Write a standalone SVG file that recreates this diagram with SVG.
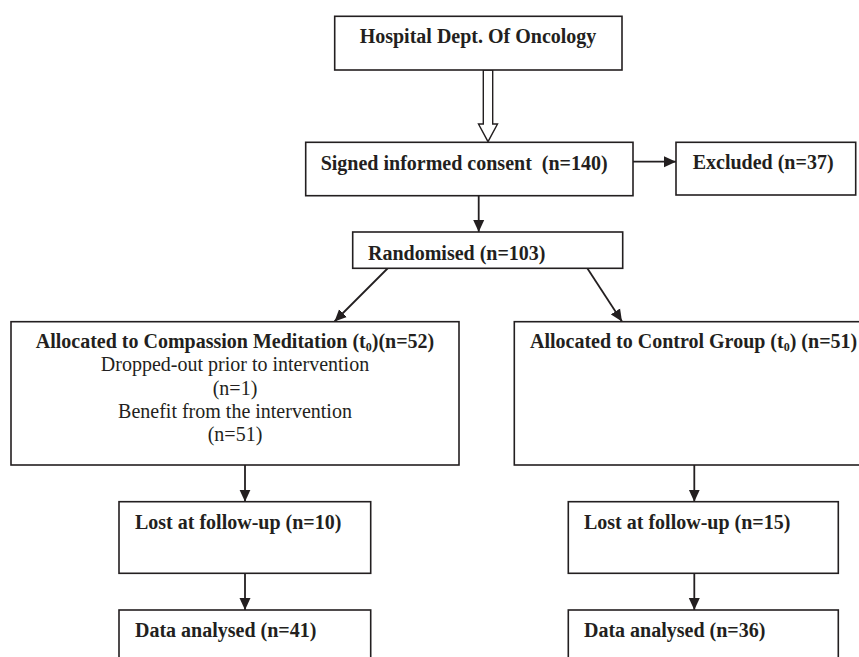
<svg xmlns="http://www.w3.org/2000/svg" width="859" height="657" viewBox="0 0 859 657">
<defs>
<style>
.box{fill:#fff;stroke:#231f20;stroke-width:1.6}
.t{font-family:"Liberation Serif","Times New Roman",serif;font-size:20px;fill:#231f20}
.b{font-weight:bold}
.sub{font-size:12px}
.con{stroke:#231f20;stroke-width:1.8;fill:none;marker-end:url(#ah)}
</style>
<marker id="ah" markerUnits="userSpaceOnUse" markerWidth="12" markerHeight="12" viewBox="0 0 12 12" refX="12" refY="6" orient="auto">
<path d="M0,0.5 L12,6 L0,11.5 Z" fill="#231f20"/>
</marker>
</defs>
<rect width="859" height="657" fill="#fff"/>
<g id="connectors">
<polygon points="483.3,70 492.7,70 492.7,124 497.5,124 488,141.7 478.5,124 483.3,124" fill="#fff" stroke="#231f20" stroke-width="1.4"/>
<line class="con" x1="633" y1="161.7" x2="676" y2="161.7"/>
<line class="con" x1="478.7" y1="195.7" x2="478.7" y2="232"/>
<line class="con" x1="388" y1="268" x2="334.5" y2="321.5"/>
<line class="con" x1="587.3" y1="268.3" x2="622" y2="321.5"/>
<line class="con" x1="245" y1="465" x2="245" y2="501.7"/>
<line class="con" x1="245" y1="573.3" x2="245" y2="610"/>
<line class="con" x1="694.3" y1="465" x2="694.3" y2="501.7"/>
<line class="con" x1="694.3" y1="573.3" x2="694.3" y2="610"/>
</g>
<g id="hospital">
<rect class="box" x="334.7" y="16.3" width="287.3" height="53.7"/>
<text class="t b" x="478" y="43" text-anchor="middle">Hospital Dept. Of Oncology</text>
</g>
<g id="consent">
<rect class="box" x="305.7" y="142.3" width="327.3" height="53.4"/>
<text class="t b" x="320.7" y="170" xml:space="preserve">Signed informed consent  (n=140)</text>
</g>
<g id="excluded">
<rect class="box" x="676" y="142.3" width="179.7" height="52.7"/>
<text class="t b" x="692.7" y="169.3">Excluded (n=37)</text>
</g>
<g id="randomised">
<rect class="box" x="352.7" y="232" width="270" height="36.3"/>
<text class="t b" x="368" y="260">Randomised (n=103)</text>
</g>
<g id="compassion">
<rect class="box" x="11" y="321.7" width="448" height="143.3"/>
<text class="t b" x="235" y="348" text-anchor="middle">Allocated to Compassion Meditation (t<tspan class="sub" dy="2.5">0</tspan><tspan dy="-2.5">)(n=52)</tspan></text>
<text class="t" x="235" y="371" text-anchor="middle">Dropped-out prior to intervention</text>
<text class="t" x="235" y="395" text-anchor="middle">(n=1)</text>
<text class="t" x="235" y="418" text-anchor="middle">Benefit from the intervention</text>
<text class="t" x="235" y="441" text-anchor="middle">(n=51)</text>
</g>
<g id="control">
<rect class="box" x="514.3" y="321.7" width="360" height="143.3"/>
<text class="t b" x="530" y="348">Allocated to Control Group (t<tspan class="sub" dy="2.5">0</tspan><tspan dy="-2.5">) (n=51)</tspan></text>
</g>
<g id="lost-left">
<rect class="box" x="119" y="501.7" width="251.7" height="71.6"/>
<text class="t b" x="135" y="529.3">Lost at follow-up (n=10)</text>
</g>
<g id="lost-right">
<rect class="box" x="568.3" y="501.7" width="270" height="71.6"/>
<text class="t b" x="584" y="529.3">Lost at follow-up (n=15)</text>
</g>
<g id="data-left">
<rect class="box" x="119" y="610" width="251.7" height="70"/>
<text class="t b" x="135" y="636.7">Data analysed (n=41)</text>
</g>
<g id="data-right">
<rect class="box" x="568.3" y="610" width="270" height="70"/>
<text class="t b" x="584" y="636.7">Data analysed (n=36)</text>
</g>
</svg>
